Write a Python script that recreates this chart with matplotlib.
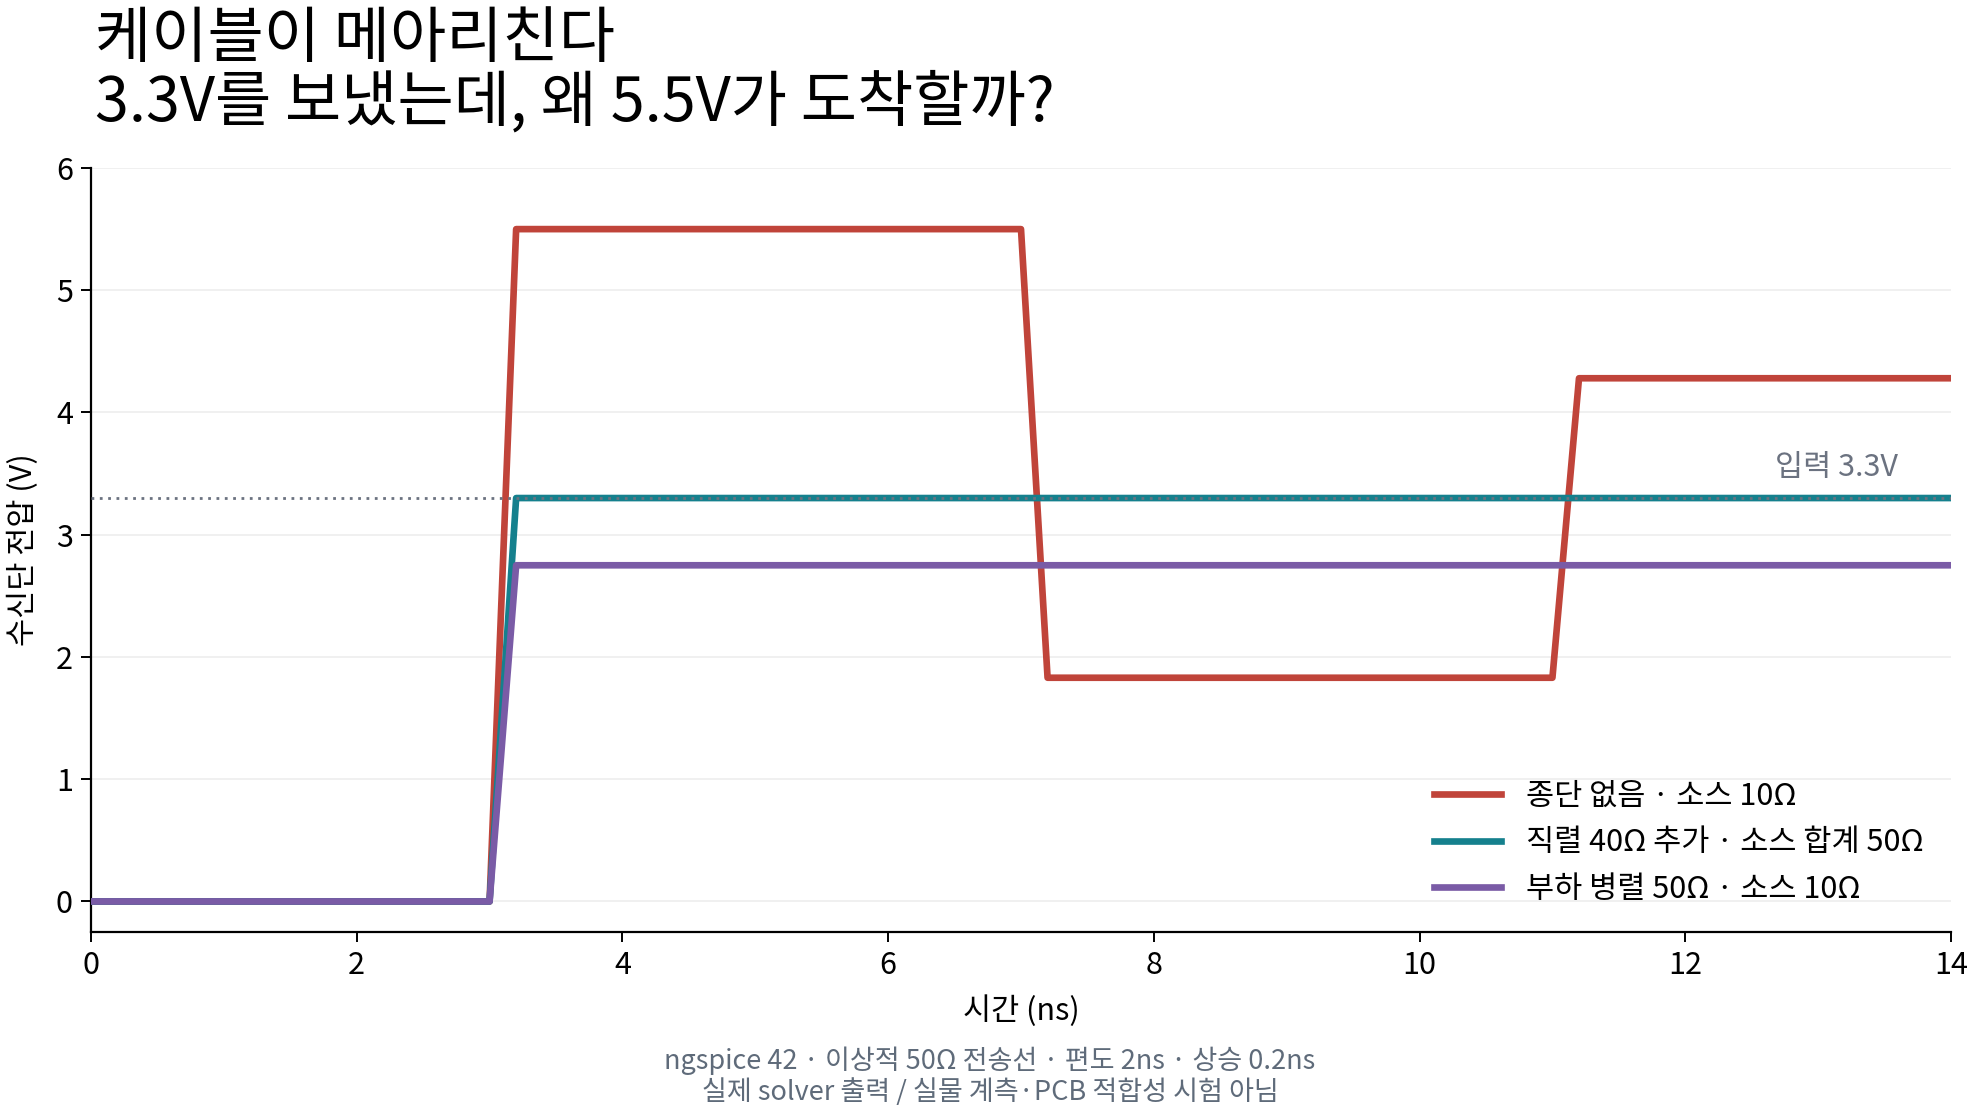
import matplotlib
matplotlib.use("Agg")
import matplotlib.pyplot as plt

plt.rcParams['font.family'] = ['Noto Sans CJK KR', 'DejaVu Sans']

# 시뮬레이션 파형 (그림에서 읽은 꺾임점)
time_ns = [0.0, 3.0, 3.2, 7.0, 7.2, 11.0, 11.2, 14.0]
v_open = [0.0, 0.0, 5.5, 5.5, 1.83, 1.83, 4.28, 4.28]

time_match = [0.0, 3.0, 3.2, 14.0]
v_series = [0.0, 0.0, 3.3, 3.3]
v_parallel = [0.0, 0.0, 2.75, 2.75]

labels = ["종단 없음 · 소스 10Ω", "직렬 40Ω 추가 · 소스 합계 50Ω", "부하 병렬 50Ω · 소스 10Ω"]
colors = ["#c0443a", "#15808d", "#7a5ba6"]
v_input = 3.3

fig = plt.figure(figsize=(19.8, 11.16), dpi=100)
ax = fig.add_axes([91 / 1980, 1 - 932 / 1116, (1951 - 91) / 1980, (932 - 168) / 1116])

ax.plot(time_ns, v_open, color=colors[0], lw=4.8, label=labels[0], zorder=3)
ax.plot(time_match, v_series, color=colors[1], lw=4.8, label=labels[1], zorder=3)
ax.plot(time_match, v_parallel, color=colors[2], lw=4.8, label=labels[2], zorder=3)

ax.axhline(v_input, color="#6b7280", lw=2.0, ls=(0, (1, 2.0)), zorder=4)
ax.text(13.6, v_input + 0.12, f"입력 {v_input}V", color="#6b7280", fontsize=22,
        ha="right", va="bottom")

ax.set_xlim(0, 14)
ax.set_ylim(-0.25, 6)
ax.set_xticks(range(0, 15, 2))
ax.set_yticks(range(0, 7))
ax.tick_params(labelsize=22, length=7, width=1.4, pad=6)
ax.grid(axis="y", color="#efefef", lw=1.3)
ax.set_axisbelow(True)
for s in ["top", "right"]:
    ax.spines[s].set_visible(False)
for s in ["left", "bottom"]:
    ax.spines[s].set_linewidth(1.6)

ax.set_xlabel("시간 (ns)", fontsize=22, labelpad=10)
ax.set_ylabel("수신단 전압 (V)", fontsize=22, labelpad=12)

ax.legend(loc="lower right", bbox_to_anchor=(1.0, 0.0), frameon=False, fontsize=22,
          handlelength=2.2, handletextpad=0.8, labelspacing=0.5)

fig.text(95 / 1980, 1 - 57 / 1116, "케이블이 메아리친다", fontsize=44, va="baseline", ha="left")
fig.text(95 / 1980, 1 - 121 / 1116, "3.3V를 보냈는데, 왜 5.5V가 도착할까?", fontsize=44,
         va="baseline", ha="left")

fig.text(0.5, 1 - 1061 / 1116, "ngspice 42 · 이상적 50Ω 전송선 · 편도 2ns · 상승 0.2ns",
         fontsize=19.5, color="#5f6b7a", ha="center", va="center")
fig.text(0.5, 1 - 1092 / 1116, "실제 solver 출력 / 실물 계측·PCB 적합성 시험 아님",
         fontsize=19.5, color="#5f6b7a", ha="center", va="center")

fig.savefig("out.png", dpi=100)
